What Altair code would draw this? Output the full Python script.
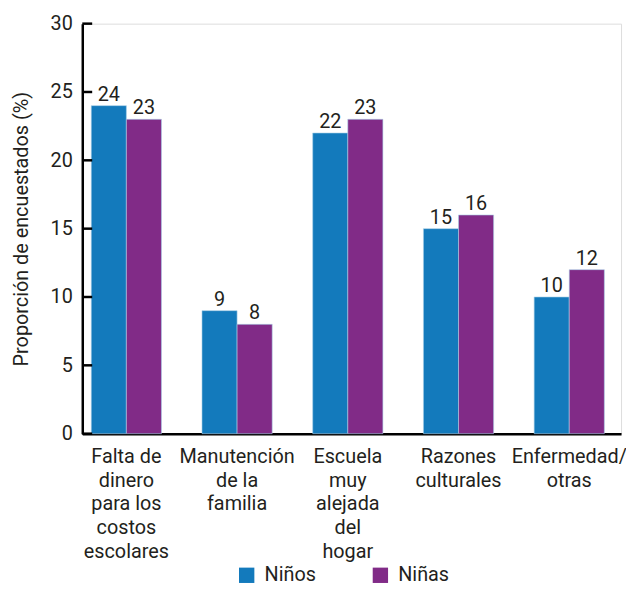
import altair as alt
import pandas as pd

categories = [
    "Falta de|dinero|para los|costos|escolares",
    "Manutención|de la|familia",
    "Escuela|muy|alejada|del|hogar",
    "Razones|culturales",
    "Enfermedad/|otras",
]
ninos = [24, 9, 22, 15, 10]
ninas = [23, 8, 23, 16, 12]
series = ["Niños", "Niñas"]
colors = ["#137abc", "#812b87"]
y_ticks = [0, 5, 10, 15, 20, 25, 30]

rows = []
for c, a, b in zip(categories, ninos, ninas):
    rows.append({"cat": c, "serie": "Niños", "val": a})
    rows.append({"cat": c, "serie": "Niñas", "val": b})
df = pd.DataFrame(rows)

FONT = "Roboto"
TXT = "#231f20"
FS = 20

x_enc = alt.X(
    "cat:N",
    sort=categories,
    scale=alt.Scale(paddingInner=0.366, paddingOuter=0.116, align=0.35),
    axis=alt.Axis(
        title=None,
        labelAngle=0,
        labelExpr="split(datum.label, '|')",
        labelFontSize=FS,
        labelFont=FONT,
        labelColor=TXT,
        labelLineHeight=24,
        labelPadding=13,
        ticks=False,
        domainColor="#000000",
        domainWidth=2.5,
    ),
)
y_scale = alt.Scale(domain=[0, 30], nice=False)

base = alt.Chart(df).encode(
    x=x_enc,
    xOffset=alt.XOffset("serie:N", sort=series),
)

bars = base.mark_bar(stroke="#a9cfe8", strokeWidth=0.6).encode(
    y=alt.Y(
        "val:Q",
        scale=y_scale,
        axis=alt.Axis(
            title="Proporción de encuestados (%)",
            values=y_ticks,
            ticks=False,
            grid=False,
            labelFontSize=FS,
            labelFont=FONT,
            labelColor=TXT,
            labelPadding=10,
            titleFontSize=FS,
            titleFont=FONT,
            titleColor=TXT,
            titleFontWeight="normal",
            titlePadding=19,
            domainColor="#000000",
            domainWidth=2.5,
        ),
    ),
    color=alt.Color(
        "serie:N",
        sort=series,
        scale=alt.Scale(domain=series, range=colors),
        legend=alt.Legend(
            title=None,
            orient="none",
            legendX=156,
            legendY=547,
            direction="horizontal",
            symbolType="square",
            symbolSize=240,
            symbolStrokeWidth=0,
            labelFontSize=FS,
            labelFont=FONT,
            labelColor=TXT,
            columnPadding=55,
            labelOffset=8,
        ),
    ),
)

labels = base.mark_text(
    baseline="bottom", dy=-1, fontSize=FS, font=FONT, color=TXT
).encode(
    y=alt.Y("val:Q", scale=y_scale),
    text=alt.Text("val:Q"),
)

tick_df = pd.DataFrame({"t": y_ticks})
ticks = (
    alt.Chart(tick_df)
    .mark_rule(color="#000000", strokeWidth=2.5)
    .encode(
        y=alt.Y("t:Q", scale=y_scale),
        x=alt.value(0),
        x2=alt.value(10),
    )
)

chart = (
    alt.layer(bars, labels, ticks)
    .properties(
        width=544,
        height=414,
        autosize=alt.AutoSizeParams(type="none"),
        padding={"left": 75, "top": 13, "right": 5, "bottom": 150},
    )
    .configure_view(stroke=None)
    .configure(background="#ffffff")
)

chart.save("out.html", embed_options={"renderer": "svg", "actions": False})
